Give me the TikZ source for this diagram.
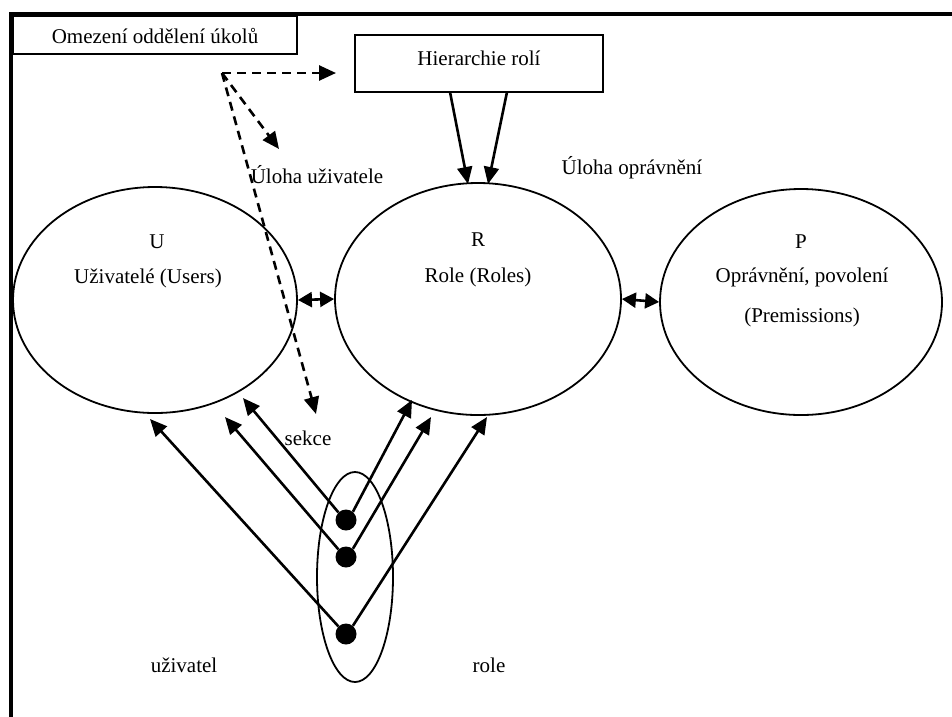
\documentclass[tikz,border=0pt]{standalone}
\usepackage{fontspec}
\setmainfont{Liberation Serif}
\usetikzlibrary{arrows.meta,shapes.geometric}
\begin{document}
\begin{tikzpicture}[x=1pt,y=-1pt,
  every node/.style={font=\fontsize{21}{25}\selectfont, inner sep=0pt},
  txt/.style={},
  rectbox/.style={draw, line width=2pt},
  set/.style={draw, ellipse, line width=1.8pt},
  dot/.style={circle, fill=black, minimum size=21pt},
  tip/.style={-{Triangle[length=17pt,width=15pt]}},
  arr/.style={tip, line width=2.6pt},
  dasharr/.style={tip, line width=2.6pt, dash pattern=on 9pt off 6pt},
  twoway/.style={{Triangle[length=14pt,width=15pt]}-{Triangle[length=14pt,width=15pt]}, line width=2.6pt}]
\useasboundingbox (0,0) rectangle (952,716);
% outer frame
\draw[line width=4.5pt] (11,760) -- (11,14) -- (990,14);

% boxes
\node[rectbox, minimum width=284pt, minimum height=38pt] (omez) at (155,35) {};
\node[txt] (omezt) at (155,36) {Omezení oddělení úkolů};
\node[rectbox, minimum width=248pt, minimum height=57pt] (hier) at (479,63.5) {};
\node[txt] (hiert) at (479,58) {Hierarchie rolí};

% sets
\node[set, minimum width=284pt, minimum height=226pt] (U) at (155,300) {};
\node[set, minimum width=286pt, minimum height=232pt] (R) at (478,299) {};
\node[set, minimum width=282pt, minimum height=226pt] (P) at (801,302) {};

\node (Ul) at (157,242) {U};
\node (Ut) at (148,278) {Uživatelé (Users)};
\node (Rl) at (478,240) {R};
\node (Rt) at (478,277) {Role (Roles)};
\node (Pl) at (801,242) {P};
\node (Pt) at (802,277) {Oprávnění, povolení};
\node (Pt2) at (802,317) {(Premissions)};

\draw[twoway] (U.east) -- (R.west);
\draw[twoway] (R.east) -- (P.west);

% role hierarchy
\coordinate (h1) at (450,92);
\coordinate (h2) at (507,92);
\coordinate (rt1) at (468,184);
\coordinate (rt2) at (488,184);
\draw[arr] (h1) -- (rt1);
\draw[arr] (h2) -- (rt2);

% separation of duty constraints
\coordinate (o) at (222,73);
\coordinate (dt1) at (336,73);
\coordinate (dt2) at (279,149);
\coordinate (dt3) at (316,414);
\draw[dasharr] (o) -- (dt1);
\draw[dasharr] (o) -- (dt2);
\draw[dasharr] (o) -- (dt3);

\node (ulu) at (317,175) {Úloha uživatele};
\node (ulo) at (632,168) {Úloha oprávnění};

% session
\node[set, minimum width=76pt, minimum height=210pt] (grp) at (355,577) {};
\node[dot] (d1) at (346,520) {};
\node[dot] (d2) at (346,557) {};
\node[dot] (d3) at (346,634) {};

\coordinate (l1) at (243,398);
\coordinate (l2) at (225,417);
\coordinate (l3) at (150,419);
\coordinate (r1) at (412,400);
\coordinate (r2) at (431,417);
\coordinate (r3) at (487,417);
\draw[arr] (d1.135) -- (l1);
\draw[arr] (d2.135) -- (l2);
\draw[arr] (d3.135) -- (l3);
\draw[arr] (d1.50) -- (r1);
\draw[arr] (d2.50) -- (r2);
\draw[arr] (d3.50) -- (r3);

\node (sek) at (308,438) {sekce};
\node (uz) at (184,665) {uživatel};
\node (rl) at (489,665) {role};
\end{tikzpicture}
\end{document}
